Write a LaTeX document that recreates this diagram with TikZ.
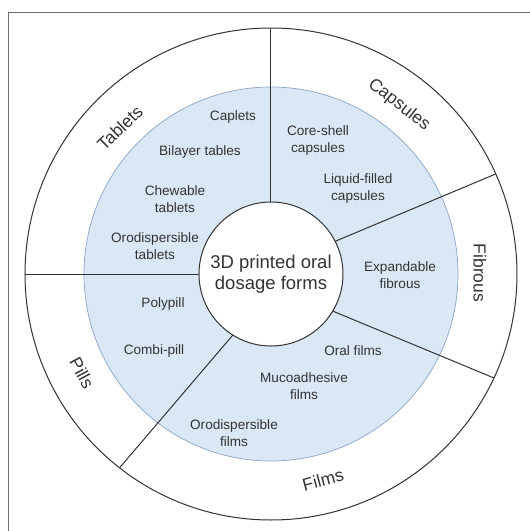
\documentclass[tikz,border=0pt]{standalone}
\usepackage{fontspec}
\setmainfont{Liberation Sans}
\definecolor{ringblue}{HTML}{DAE8F6}
\definecolor{ringedge}{HTML}{8BA5C9}
\definecolor{inkgray}{HTML}{333333}
\definecolor{framegray}{HTML}{6E6E6E}

\begin{document}
\begin{tikzpicture}[x=1pt,y=1pt,line width=1pt,
  disc/.style={circle,draw=inkgray,outer sep=0pt,inner sep=0pt},
  ringlabel/.style={font=\fontsize{17.5}{20}\selectfont,text=inkgray},
  item/.style={font=\fontsize{13.6}{17}\selectfont,text=inkgray,align=center}]
  \useasboundingbox (-271,-257) rectangle (259,274);
  \draw[framegray] (-262,-300) -- (-262,262) -- (300,262);
  % rings
  \node[disc,fill=white,minimum size=492pt] (outer) at (0,0) {};
  \node[disc,draw=ringedge,line width=0.7pt,fill=ringblue,minimum size=374pt] (blue) at (0,0) {};
  \node[disc,fill=white,minimum size=144pt,align=center,
        font=\fontsize{18.5}{21}\selectfont,text=inkgray] (core) at (0,0) {3D printed oral\\dosage forms};
  % dividers
  \draw[inkgray] (core.90) -- (outer.90);
  \draw[inkgray] (core.27) -- (outer.24);
  \draw[inkgray] (core.-31) -- (outer.-25);
  \draw[inkgray] (core.238) -- (outer.232);
  \draw[inkgray] (core.180) -- (outer.180);
  % outer ring
  \node[ringlabel,rotate=44] (tablets) at (-151,146) {Tablets};
  \node[ringlabel,rotate=-38] (capsules) at (128,169) {Capsules};
  \node[ringlabel,rotate=-90] (fibrous) at (209,1) {Fibrous};
  \node[ringlabel,rotate=15] (films) at (52,-206) {Films};
  \node[ringlabel,rotate=-62] (pills) at (-189,-99) {Pills};
  % blue ring
  \node[item] (caplets) at (-38,157) {Caplets};
  \node[item] (bilayer) at (-71,122) {Bilayer tables};
  \node[item] (chewable) at (-96,75) {Chewable\\tablets};
  \node[item] (odtab) at (-116,28) {Orodispersible\\tablets};
  \node[item] (coreshell) at (47,134) {Core-shell\\capsules};
  \node[item] (liquid) at (87,86) {Liquid-filled\\capsules};
  \node[item] (expand) at (129,-1) {Expandable\\fibrous};
  \node[item] (oralfilm) at (82,-77) {Oral films};
  \node[item] (muco) at (33,-112) {Mucoadhesive\\films};
  \node[item] (odfilm) at (-37,-159) {Orodispersible\\films};
  \node[item] (polypill) at (-108,-30) {Polypill};
  \node[item] (combi) at (-117,-77) {Combi-pill};
\end{tikzpicture}
\end{document}
